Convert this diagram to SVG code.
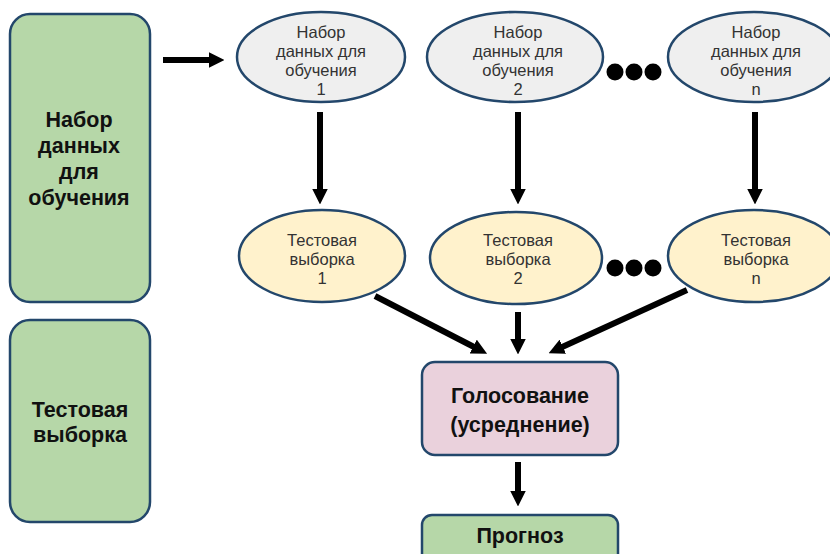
<svg xmlns="http://www.w3.org/2000/svg" width="830" height="554" viewBox="0 0 830 554">
<style>
.box{stroke:#23476b;stroke-width:2.5}
.green{fill:#b6d7a8}
.pink{fill:#ead1dc}
.train{fill:#efefef;stroke:#23476b;stroke-width:2.5}
.test{fill:#fff2cc;stroke:#23476b;stroke-width:2.5}
.b{font-family:"Liberation Sans",Arial,sans-serif;font-weight:bold;font-size:21.5px;fill:#111;text-anchor:middle}
.r{font-family:"Liberation Sans",Arial,sans-serif;font-size:16.5px;fill:#333;text-anchor:middle}
.c{stroke:#000;stroke-width:6;fill:none;marker-end:url(#ah)}
.dot{fill:#000}
</style>
<defs>
<marker id="ah" viewBox="0 0 10 10" refX="2" refY="5" markerWidth="2.6" markerHeight="2.6" orient="auto" markerUnits="strokeWidth">
<path d="M0,0 L10,5 L0,10 z" fill="#000"/>
</marker>
</defs>
<rect width="830" height="554" fill="#fff"/>
<g id="train-set">
<rect class="box green" x="10" y="14" width="140" height="288" rx="20"/>
<text class="b" x="79" y="127">Набор</text>
<text class="b" x="79" y="153">данных</text>
<text class="b" x="79" y="179">для</text>
<text class="b" x="79" y="205">обучения</text>
</g>
<g id="test-set">
<rect class="box green" x="10" y="320" width="140" height="202" rx="20"/>
<text class="b" x="80" y="417">Тестовая</text>
<text class="b" x="80" y="442">выборка</text>
</g>
<g id="train1">
<ellipse class="train" cx="321" cy="57" rx="84" ry="45"/>
<text class="r" x="321" y="38">Набор</text>
<text class="r" x="321" y="57">данных для</text>
<text class="r" x="321" y="76">обучения</text>
<text class="r" x="321" y="95">1</text>
</g>
<g id="train2">
<ellipse class="train" cx="515" cy="57" rx="88" ry="45"/>
<text class="r" x="518" y="38">Набор</text>
<text class="r" x="518" y="57">данных для</text>
<text class="r" x="518" y="76">обучения</text>
<text class="r" x="518" y="95">2</text>
</g>
<g id="trainn">
<ellipse class="train" cx="754" cy="57" rx="86" ry="45"/>
<text class="r" x="756" y="38">Набор</text>
<text class="r" x="756" y="57">данных для</text>
<text class="r" x="756" y="76">обучения</text>
<text class="r" x="756" y="95">n</text>
</g>
<g id="dots-top">
<circle class="dot" cx="615" cy="72" r="8.5"/>
<circle class="dot" cx="634" cy="72" r="8.5"/>
<circle class="dot" cx="653" cy="72" r="8.5"/>
</g>
<g id="test1">
<ellipse class="test" cx="322" cy="256" rx="83" ry="46"/>
<text class="r" x="322" y="246">Тестовая</text>
<text class="r" x="322" y="265">выборка</text>
<text class="r" x="322" y="284">1</text>
</g>
<g id="test2">
<ellipse class="test" cx="516" cy="258" rx="86" ry="46"/>
<text class="r" x="518" y="246">Тестовая</text>
<text class="r" x="518" y="265">выборка</text>
<text class="r" x="518" y="284">2</text>
</g>
<g id="testn">
<ellipse class="test" cx="754" cy="256" rx="86" ry="46"/>
<text class="r" x="756" y="246">Тестовая</text>
<text class="r" x="756" y="265">выборка</text>
<text class="r" x="756" y="284">n</text>
</g>
<g id="dots-bottom">
<circle class="dot" cx="615" cy="268" r="8.5"/>
<circle class="dot" cx="634" cy="268" r="8.5"/>
<circle class="dot" cx="653" cy="268" r="8.5"/>
</g>
<g id="vote">
<rect class="box pink" x="422" y="362" width="196" height="93" rx="13"/>
<text class="b" x="520" y="403">Голосование</text>
<text class="b" x="520" y="432">(усреднение)</text>
</g>
<g id="forecast">
<rect class="box green" x="422" y="515" width="196" height="50" rx="10"/>
<text class="b" x="520" y="543">Прогноз</text>
</g>
<g id="connectors">
<path class="c" d="M163,60 L212,60"/>
<path class="c" d="M320,112 L320,192"/>
<path class="c" d="M518,112 L518,192"/>
<path class="c" d="M755,112 L755,192"/>
<path class="c" d="M375,296 L476,348"/>
<path class="c" d="M518,312 L518,342"/>
<path class="c" d="M687,290 L560,348"/>
<path class="c" d="M518,462 L518,494"/>
</g>
</svg>
